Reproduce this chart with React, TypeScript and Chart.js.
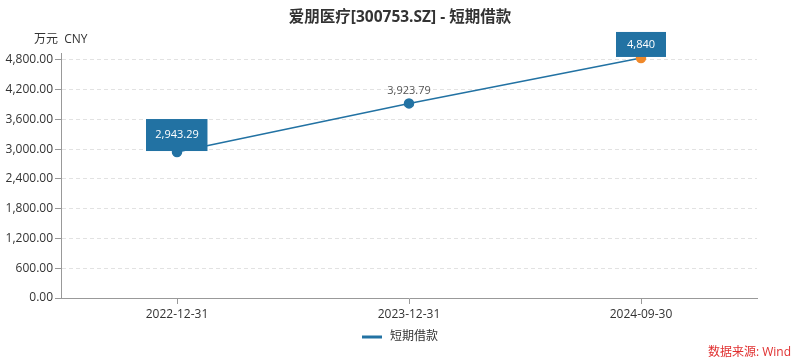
import React, { useEffect, useRef } from "react";
import { Chart, registerables } from "chart.js";
Chart.register(...registerables);

const categories = ["2022-12-31", "2023-12-31", "2024-09-30"];
const values = [2943.29, 3923.79, 4840];
const valueLabels = ["2,943.29", "3,923.79", "4,840"];
const labelBoxed = [true, false, true];
const boxHeights = [32, 0, 25];
const pointColors = ["#2272a3", "#2272a3", "#f0892a"];
const yTicks = [0, 600, 1200, 1800, 2400, 3000, 3600, 4200, 4800];
const seriesName = "短期借款";
const title = "爱朋医疗[300753.SZ] - 短期借款";
const unitText = "万元  CNY";
const sourceText = "数据来源: Wind";

const FONT = '"Open Sans", "Noto Sans CJK SC", sans-serif';
const LINE = "#2272a3";

const overlay = {
  id: "overlay",
  afterDatasetsDraw(chart: any) {
    const ctx = chart.ctx;
    const meta = chart.getDatasetMeta(0);
    ctx.save();
    meta.data.forEach((pt: any, i: number) => {
      const x = pt.x, y = pt.y;
      ctx.font = `11px ${FONT}`;
      ctx.textAlign = "center";
      ctx.textBaseline = "middle";
      if (labelBoxed[i]) {
        const w = Math.max(ctx.measureText(valueLabels[i]).width + 18, 50);
        const h = boxHeights[i];
        ctx.fillStyle = "#2272a3";
        ctx.fillRect(Math.round(x - w / 2), y - 1 - h, w, h);
        ctx.fillStyle = "#ffffff";
        ctx.fillText(valueLabels[i], x, y - 1 - h / 2);
      } else {
        ctx.fillStyle = "#555";
        ctx.fillText(valueLabels[i], x, y - 13);
      }
    });
    // title
    ctx.fillStyle = "#333";
    ctx.font = `bold 15.5px ${FONT}`;
    ctx.textAlign = "center";
    ctx.fillText(title, 400, 18);
    // unit
    ctx.font = `12px ${FONT}`;
    ctx.textAlign = "left";
    ctx.fillStyle = "#333";
    ctx.fillText(unitText, 34, 40);
    // legend
    ctx.strokeStyle = LINE;
    ctx.lineWidth = 3;
    ctx.beginPath();
    ctx.moveTo(362, 337);
    ctx.lineTo(382, 337);
    ctx.stroke();
    ctx.fillStyle = "#333";
    ctx.font = `12px ${FONT}`;
    ctx.fillText(seriesName, 390, 337);
    // source
    ctx.fillStyle = "#e03030";
    ctx.textAlign = "right";
    ctx.font = `12px ${FONT}`;
    ctx.fillText(sourceText, 791, 353);
    ctx.restore();
  },
};

export default function App() {
  const ref = useRef<HTMLCanvasElement>(null);
  useEffect(() => {
    document.body.style.margin = "0";
    const chart = new Chart(ref.current!, {
      type: "line",
      data: {
        labels: categories,
        datasets: [
          {
            label: seriesName,
            data: values,
            borderColor: LINE,
            borderWidth: 1.5,
            pointBackgroundColor: pointColors,
            pointBorderColor: pointColors,
            pointRadius: 4.5,
            tension: 0,
            clip: false as any,
          },
        ],
      },
      options: {
        animation: false,
        responsive: false,
        layout: { padding: { left: 0, right: 43, top: 53, bottom: 0 } },
        plugins: { legend: { display: false }, title: { display: false }, tooltip: { enabled: false } },
        scales: {
          x: {
            offset: true,
            afterFit: (s: any) => { s.height = 65; },
            grid: { drawOnChartArea: false, drawTicks: true, tickLength: 6, color: "#999", offset: false },
            border: { display: true, color: "#999", width: 1 },
            ticks: { color: "#333", font: { size: 12, family: FONT }, padding: 3 },
          },
          y: {
            min: 0,
            max: 4940,
            afterFit: (s: any) => { s.width = 61; },
            afterBuildTicks: (s: any) => { s.ticks = yTicks.map((v) => ({ value: v })); },
            grid: { color: "#e2e2e2", tickLength: 6, tickColor: "#999", drawTicks: true },
            border: { display: true, color: "#999", dash: [4, 3] as any, width: 1 },
            ticks: {
              color: "#333",
              font: { size: 12, family: FONT },
              padding: 2,
              callback: (v: any) => Number(v).toLocaleString("en-US", { minimumFractionDigits: 2, maximumFractionDigits: 2 }),
            },
          },
        },
      } as any,
      plugins: [overlay],
    });
    return () => chart.destroy();
  }, []);
  return (
    <div style={{ width: 800, height: 363 }}>
      <canvas ref={ref} width={800} height={363} style={{ display: "block" }} />
    </div>
  );
}
